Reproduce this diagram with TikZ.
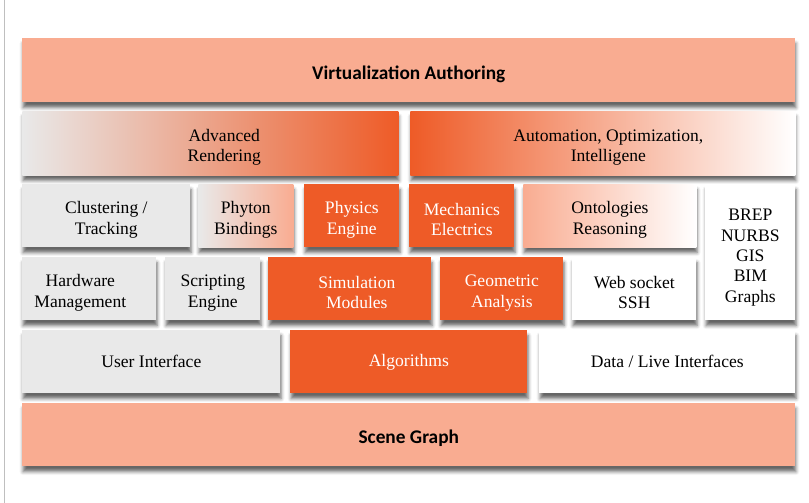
\documentclass[tikz,border=0pt]{standalone}
\usepackage{fontspec}
\setmainfont{Liberation Serif}
\newfontfamily\titlefont{Carlito}
\usetikzlibrary{shadows.blur}
\definecolor{salmon}{HTML}{F9AC91}
\definecolor{vorange}{HTML}{EE5B27}
\definecolor{lgrey}{HTML}{E9E9E9}
\newcommand{\nudge}[1]{\hspace*{#1}}
\def\boxlift{0pt}
\tikzset{lift/.code={\def\boxlift{#1}}}

\begin{document}
\begin{tikzpicture}[x=0.02cm,y=-0.02cm]
        \useasboundingbox (0,0) rectangle (809,503);

        \tikzstyle{layer}=[anchor=north west,inner sep=2pt,align=center,text=black,
            font=\fontsize{10}{11.6}\selectfont,lift=23pt,
            execute at begin node={\rule{0pt}{\boxlift}},
            blur shadow={shadow xshift=0.4pt,shadow yshift=-3pt,shadow blur radius=2pt,shadow opacity=60}]
        \tikzstyle{band}=[layer,fill=salmon,minimum width=15.46cm,minimum height=1.28cm,lift=12pt,
            font=\titlefont\bfseries\fontsize{11}{13}\selectfont]
        \tikzstyle{greybox}=[layer,fill=lgrey]
        \tikzstyle{hotbox}=[layer,fill=vorange,text=white]
        \tikzstyle{whitebox}=[layer,fill=white]
        \tikzstyle{row}=[minimum height=1.26cm]

        % page edge
        \draw[black!25,line width=0.6pt] (4.3,0) -- (4.3,503);

        \node [band] (virt) at (22,38) {Virtualization Authoring};

        % second row, shaded
        \node [layer,left color=lgrey,middle color=salmon!80!lgrey,right color=vorange,
               minimum width=7.52cm,minimum height=1.28cm] (rend) at (22,111)
               {\nudge{0.56cm}Advanced\\\nudge{0.56cm}Rendering};
        \node [layer,left color=vorange,middle color=salmon,right color=white,
               minimum width=7.7cm,minimum height=1.28cm] (auto) at (410,111)
               {\nudge{0.22cm}Automation, Optimization,\\\nudge{0.22cm}Intelligene};

        % third row
        \node [greybox,row,minimum width=3.36cm] (clus) at (22,184) {Clustering /\\Tracking};
        \node [layer,row,left color=lgrey,right color=salmon,minimum width=1.9cm] (pyb) at (198,184) {Phyton\\Bindings};
        \node [hotbox,row,minimum width=1.9cm] (phys) at (304,184) {Physics\\Engine};
        \node [hotbox,row,minimum width=2.1cm] (mech) at (409,184) {Mechanics\\Electrics};
        \node [layer,row,left color=salmon,right color=white,minimum width=3.46cm] (onto) at (523,184) {Ontologies\\Reasoning};
        \node [whitebox,lift=59pt,minimum width=1.8cm,minimum height=2.72cm] (brep) at (705,184) {BREP\\NURBS\\GIS\\BIM\\Graphs};

        % fourth row
        \node [greybox,row,minimum width=2.68cm] (hw) at (22,257) {Hardware\nudge{0.36cm}\\Management\nudge{0.36cm}};
        \node [greybox,row,minimum width=1.9cm] (scr) at (165,257) {Scripting\\Engine};
        \node [hotbox,row,minimum width=3.26cm] (sim) at (268,257) {\nudge{0.28cm}Simulation\\\nudge{0.28cm}Modules};
        \node [hotbox,row,minimum width=2.46cm] (geo) at (440,257) {Geometric\\Analysis};
        \node [whitebox,row,minimum width=2.48cm] (web) at (572,257) {Web socket\\SSH};

        % fifth row, one line each
        \node [greybox,row,lift=0pt,minimum width=5.16cm] (ui) at (22,330) {User Interface};
        \node [hotbox,row,lift=0pt,minimum width=4.74cm] (alg) at (290,330) {Algorithms};
        \node [whitebox,row,lift=0pt,minimum width=5.12cm] (data) at (539,330) {Data / Live Interfaces};

        \node [band,minimum height=1.26cm] (scene) at (22,403) {Scene Graph};
\end{tikzpicture}
\end{document}
